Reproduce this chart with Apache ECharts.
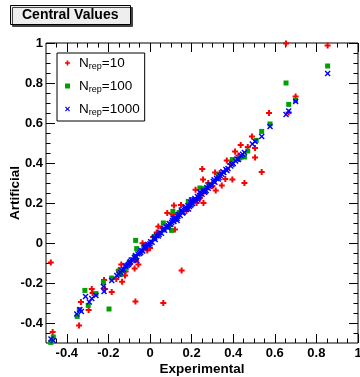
<!DOCTYPE html>
<html>
<head>
<meta charset="utf-8">
<script src="https://cdn.jsdelivr.net/npm/echarts@6/dist/echarts.min.js"></script>
<style>
  html, body { margin: 0; padding: 0; background: #fff; }
  #chart { width: 360px; height: 377px; }
</style>
</head>
<body>
<div id="chart"></div>
<script>
// Nrep = 10 (red +)
var red10 = [
  [-0.477, -0.097], [-0.468, -0.445], [-0.341, -0.412], [-0.332, -0.295],
  [-0.295, -0.335], [-0.280, -0.230], [-0.276, -0.250], [-0.221, -0.185],
  [-0.216, -0.230], [-0.184, -0.245], [-0.162, -0.180], [-0.134, -0.194],
  [-0.138, -0.108], [-0.120, -0.162], [-0.117, -0.142], [-0.074, -0.127],
  [-0.070, -0.292], [0.064, -0.300], [-0.056, -0.108], [-0.068, -0.085],
  [0.152, -0.137], [-0.036, -0.001], [0.000, -0.025], [-0.013, -0.037],
  [0.032, 0.053], [0.040, 0.083], [0.083, 0.150], [0.107, 0.145],
  [0.120, 0.067], [0.115, 0.187], [0.149, 0.190], [0.224, 0.200],
  [0.257, 0.200], [0.219, 0.266], [0.250, 0.247], [0.280, 0.300],
  [0.240, 0.225], [0.251, 0.370], [0.255, 0.317], [0.313, 0.353],
  [0.316, 0.263], [0.345, 0.287], [0.362, 0.320], [0.396, 0.317],
  [0.369, 0.413], [0.409, 0.458], [0.425, 0.437], [0.436, 0.490],
  [0.454, 0.300], [0.490, 0.533], [0.505, 0.475], [0.505, 0.428],
  [0.537, 0.355], [0.572, 0.650], [0.654, 0.997], [0.854, 0.987],
  [0.700, 0.733], [0.667, 0.653],
  [-0.150, -0.135], [-0.095, -0.105], [-0.020, -0.010], [0.015, 0.030],
  [0.060, 0.072], [0.095, 0.085], [0.135, 0.150], [0.175, 0.160],
  [0.195, 0.215], [0.300, 0.285], [0.335, 0.350], [0.385, 0.395],
  [0.430, 0.420], [0.470, 0.480]
];

// Nrep = 100 (green squares)
var green100 = [
  [-0.477, -0.497], [-0.465, -0.470], [-0.350, -0.367], [-0.340, -0.333],
  [-0.313, -0.237], [-0.297, -0.312], [-0.260, -0.253], [-0.224, -0.197],
  [-0.197, -0.330], [-0.184, -0.175], [-0.141, -0.158], [-0.120, -0.133],
  [-0.069, 0.013], [-0.064, -0.028], [-0.072, -0.067], [0.064, 0.100],
  [0.104, 0.063], [0.110, 0.158], [0.184, 0.208], [0.240, 0.275],
  [0.285, 0.290], [0.396, 0.417], [0.454, 0.430], [0.511, 0.513],
  [0.537, 0.558], [0.577, 0.595], [0.654, 0.800], [0.667, 0.693],
  [0.700, 0.713], [0.854, 0.885],
  [-0.150, -0.140], [-0.100, -0.098], [-0.030, -0.020], [0.020, 0.032],
  [0.090, 0.080], [0.140, 0.152], [0.200, 0.190], [0.260, 0.272],
  [0.330, 0.340], [0.430, 0.425], [0.470, 0.460]
];

// Nrep = 1000 (blue x)
var blue1000 = [
  [-0.476, -0.480], [-0.465, -0.487], [-0.352, -0.355], [-0.337, -0.333],
  [-0.330, -0.342], [-0.310, -0.267], [-0.292, -0.295], [-0.280, -0.278],
  [-0.260, -0.263], [-0.224, -0.217], [-0.221, -0.242], [-0.184, -0.187],
  [-0.160, -0.163], [-0.141, -0.147], [-0.128, -0.133], [-0.115, -0.120],
  [-0.104, -0.108], [-0.064, -0.088],
  [-0.098, -0.100], [-0.090, -0.085], [-0.082, -0.084], [-0.075, -0.072],
  [-0.066, -0.070], [-0.058, -0.055], [-0.050, -0.052], [-0.043, -0.038],
  [-0.035, -0.040], [-0.027, -0.022], [-0.020, -0.025], [-0.012, -0.008],
  [-0.005, -0.010], [0.003, 0.006], [0.010, 0.004], [0.018, 0.022],
  [0.025, 0.018], [0.032, 0.036], [0.040, 0.035], [0.047, 0.052],
  [0.055, 0.049], [0.062, 0.066], [0.070, 0.064], [0.077, 0.081],
  [0.085, 0.078], [0.092, 0.097], [0.100, 0.094], [0.108, 0.112],
  [0.115, 0.108], [0.122, 0.126], [0.130, 0.122], [0.138, 0.142],
  [0.145, 0.138], [0.152, 0.157], [0.160, 0.152], [0.168, 0.172],
  [0.175, 0.168], [0.182, 0.186], [0.190, 0.183], [0.197, 0.202],
  [0.205, 0.198], [0.212, 0.216], [0.220, 0.213], [0.228, 0.232],
  [0.235, 0.228], [0.243, 0.247], [0.250, 0.244], [0.258, 0.262],
  [0.265, 0.258], [0.273, 0.278], [0.280, 0.274], [0.288, 0.292],
  [0.296, 0.289], [0.304, 0.308], [0.312, 0.304], [0.320, 0.323],
  [0.328, 0.320], [0.337, 0.338], [0.345, 0.344], [0.355, 0.352],
  [0.365, 0.368], [0.375, 0.372], [0.388, 0.385], [0.400, 0.398],
  [0.412, 0.410], [0.425, 0.418], [0.438, 0.436],
  [0.110, 0.125], [0.150, 0.165], [0.200, 0.215], [0.240, 0.255],
  [0.130, 0.112], [0.185, 0.170], [0.230, 0.218], [0.270, 0.262],
  [-0.095, -0.092], [-0.070, -0.062], [-0.045, -0.048], [-0.022, -0.014],
  [0.000, -0.004], [0.022, 0.028], [0.044, 0.042], [0.066, 0.072],
  [0.088, 0.086], [0.104, 0.102], [0.118, 0.120], [0.134, 0.132],
  [0.156, 0.150], [0.172, 0.180], [0.194, 0.190], [0.216, 0.222],
  [0.238, 0.238], [0.262, 0.254], [0.284, 0.284], [0.308, 0.316],
  [0.332, 0.328], [0.350, 0.356], [0.370, 0.362], [0.394, 0.392],
  [0.418, 0.420], [0.445, 0.444], [-0.150, -0.155], [-0.135, -0.138],
  [-0.120, -0.114], [-0.110, -0.112],
  [0.454, 0.453], [0.492, 0.495], [0.505, 0.508], [0.537, 0.533],
  [0.577, 0.583], [0.654, 0.643], [0.667, 0.660], [0.700, 0.707],
  [0.854, 0.848]
];

var seriesNames = ['10', '100', '1000'];
var majorTicks = [-0.4, -0.2, 0, 0.2, 0.4, 0.6, 0.8, 1];
var minorTicks = [-0.45, -0.4, -0.35, -0.3, -0.25, -0.2, -0.15, -0.1, -0.05, 0,
  0.05, 0.1, 0.15, 0.2, 0.25, 0.3, 0.35, 0.4, 0.45, 0.5, 0.55, 0.6, 0.65, 0.7,
  0.75, 0.8, 0.85, 0.9, 0.95];

var plusPath = 'path://M2,0h2v2h2v2h-2v2h-2v-2h-2v-2h2z';
var crossPath = 'path://M0,1L1,0L3,2L5,0L6,1L4,3L6,5L5,6L3,4L1,6L0,5L2,3Z';

var font = 'Liberation Sans, Arial, Helvetica, sans-serif';

function makeAxis(dim, pos, major, withLabel) {
  var ax = {
    type: 'value',
    min: -0.5,
    max: 1,
    position: pos,
    axisLine: { show: false, onZero: false },
    splitLine: { show: false },
    axisTick: {
      show: true,
      inside: true,
      length: major ? 9 : 4.5,
      customValues: major ? majorTicks : minorTicks,
      lineStyle: { color: '#000', width: 1 }
    },
    axisLabel: { show: false }
  };
  if (withLabel) {
    ax.axisLabel = {
      show: true,
      customValues: majorTicks,
      color: '#000',
      fontFamily: font,
      fontWeight: 'bold',
      fontSize: 13,
      margin: dim === 'x' ? 4 : 3
    };
    ax.name = dim === 'x' ? 'Experimental' : 'Artificial';
    ax.nameLocation = 'middle';
    ax.nameGap = dim === 'x' ? 19 : 24;
    ax.nameMoveOverlap = false;
    ax.nameTextStyle = {
      color: '#000', fontFamily: font, fontWeight: 'bold', fontSize: 13.5
    };
  }
  return ax;
}

var chart = echarts.init(document.getElementById('chart'), null, { renderer: 'canvas' });

var option = {
  animation: false,
  backgroundColor: '#fff',
  title: {
    text: 'Central Values',
    left: 10,
    top: 5,
    padding: [2, 12],
    backgroundColor: '#eeeeee',
    borderColor: '#000',
    borderWidth: 1,
    shadowColor: '#444',
    shadowOffsetX: 2,
    shadowOffsetY: 2,
    shadowBlur: 0,
    textStyle: {
      color: '#000', fontFamily: font, fontWeight: 'bold', fontSize: 14, lineHeight: 16
    }
  },
  grid: {
    left: 46, right: 2, top: 43, bottom: 34,
    containLabel: false,
    outerBoundsMode: 'none',
    show: true,
    borderColor: '#000',
    borderWidth: 1,
    backgroundColor: 'transparent'
  },
  legend: {
    orient: 'vertical',
    left: 57,
    top: 53,
    padding: [3, 5, 4, 8],
    itemGap: 8,
    itemWidth: 5,
    itemHeight: 5,
    backgroundColor: '#fff',
    borderColor: '#000',
    borderWidth: 1,
    data: seriesNames,
    formatter: function (n) { return '{a|N}{b|rep}{a|=' + n + '}'; },
    textStyle: {
      rich: {
        a: { fontFamily: font, fontSize: 13.5, color: '#000', lineHeight: 16 },
        b: { fontFamily: font, fontSize: 9, color: '#000', lineHeight: 10, verticalAlign: 'bottom' }
      },
      padding: [0, 0, 0, 4]
    }
  },
  xAxis: [
    makeAxis('x', 'bottom', true, true),
    makeAxis('x', 'bottom', false, false),
    makeAxis('x', 'top', true, false),
    makeAxis('x', 'top', false, false)
  ],
  yAxis: [
    makeAxis('y', 'left', true, true),
    makeAxis('y', 'left', false, false),
    makeAxis('y', 'right', true, false),
    makeAxis('y', 'right', false, false)
  ],
  series: [
    {
      name: seriesNames[0], type: 'scatter', data: red10,
      symbol: plusPath, symbolSize: 6,
      itemStyle: { color: '#ff0000', opacity: 1 }
    },
    {
      name: seriesNames[1], type: 'scatter', data: green100,
      symbol: 'rect', symbolSize: 5,
      itemStyle: { color: '#00a000', opacity: 1 }
    },
    {
      name: seriesNames[2], type: 'scatter', data: blue1000,
      symbol: crossPath, symbolSize: 6,
      itemStyle: { color: '#0000ff', opacity: 1 }
    }
  ]
};

chart.setOption(option);
</script>
</body>
</html>
